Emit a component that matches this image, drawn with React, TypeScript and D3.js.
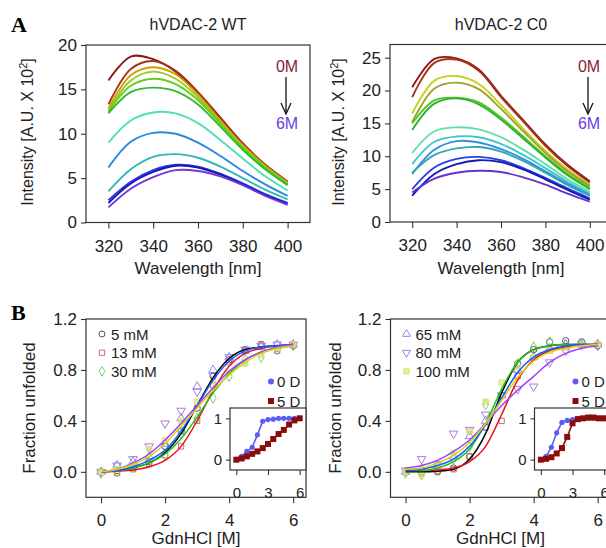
import { useRef, useEffect } from "react";
import * as d3 from "d3";

const FONT = "'Liberation Sans', Arial, sans-serif";

// ---- panel A: emission spectra ----
const wavelengths = [320, 330, 340, 350, 360, 370, 380, 390, 400];

const wtSpectra = [
  [16.0, 18.7, 18.4, 17.0, 14.6, 11.8, 8.9, 6.5, 4.6],
  [13.3, 17.3, 18.2, 17.1, 14.7, 11.8, 8.9, 6.5, 4.6],
  [12.8, 16.6, 17.5, 16.7, 14.4, 11.5, 8.7, 6.4, 4.5],
  [12.5, 16.0, 17.0, 16.2, 14.1, 11.3, 8.6, 6.3, 4.4],
  [12.5, 15.4, 16.2, 15.6, 13.8, 11.1, 8.4, 6.2, 4.3],
  [12.3, 14.7, 15.2, 14.8, 13.3, 10.8, 8.2, 6.0, 4.2],
  [9.0, 11.5, 12.4, 12.3, 11.2, 9.3, 7.2, 5.2, 3.6],
  [6.2, 9.1, 10.1, 10.0, 9.0, 7.5, 5.8, 4.3, 3.0],
  [3.5, 6.0, 7.4, 7.7, 7.3, 6.3, 5.0, 3.7, 2.6],
  [2.5, 4.6, 5.9, 6.5, 6.3, 5.5, 4.4, 3.2, 2.2],
  [2.2, 4.4, 5.7, 6.4, 6.2, 5.4, 4.3, 3.1, 2.1],
  [1.7, 3.8, 5.1, 5.9, 5.8, 5.2, 4.2, 3.0, 2.0],
];
const wtColors = ["#8b1a1a", "#a83218", "#c8a000", "#a0c820", "#60d010", "#30b830",
  "#50e0b0", "#2888e0", "#30b8b8", "#2838e8", "#1818b0", "#7038d8"];

const c0Spectra = [
  [20.5, 24.8, 24.9, 23.2, 19.2, 15.5, 11.8, 8.7, 6.2],
  [19.0, 24.2, 24.7, 23.0, 19.0, 15.3, 11.6, 8.5, 6.0],
  [16.5, 21.5, 22.2, 21.0, 17.8, 14.2, 10.8, 8.0, 5.7],
  [15.2, 20.3, 21.2, 20.2, 17.2, 13.8, 10.5, 7.7, 5.5],
  [15.0, 18.5, 18.9, 18.2, 15.9, 13.0, 10.0, 7.3, 5.2],
  [14.0, 18.0, 18.8, 17.9, 15.6, 12.7, 9.8, 7.1, 5.0],
  [10.5, 13.8, 14.4, 14.1, 12.9, 11.0, 8.8, 6.5, 4.6],
  [8.8, 12.2, 13.0, 12.9, 11.9, 10.2, 8.2, 6.1, 4.3],
  [7.3, 11.0, 12.3, 12.1, 11.1, 9.6, 7.7, 5.8, 4.1],
  [7.5, 10.2, 11.2, 11.4, 10.7, 9.3, 7.5, 5.6, 4.0],
  [5.0, 8.3, 9.6, 9.9, 9.4, 8.2, 6.7, 5.1, 3.6],
  [4.0, 7.3, 8.8, 9.4, 9.1, 8.0, 6.5, 4.9, 3.4],
  [4.5, 6.6, 7.5, 7.8, 7.6, 6.8, 5.7, 4.3, 3.1],
];
const c0Colors = ["#8b1a1a", "#a83218", "#c8d020", "#a0a028", "#50c820", "#30b030",
  "#60e0a8", "#40c8c8", "#3090e8", "#30a8b0", "#2840e8", "#1818b0", "#6830d0"];

// ---- panel B: titrations ----
const gdn = [0, 0.5, 1, 1.5, 2, 2.5, 3, 3.5, 4, 4.5, 5, 5.5, 6];
const seriesNames = ["5 mM", "13 mM", "30 mM", "65 mM", "80 mM", "100 mM"];
const markerColors = ["#555555", "#d06878", "#80d070", "#8a8ef0", "#a07ce0", "#dce070"];
const lineColors = ["#000000", "#e81020", "#20c020", "#1060ff", "#a040ff", "#e0d010"];

const leftPoints = [
  [0, 0.01, 0.03, 0.08, 0.2, 0.32, 0.5, 0.75, 0.88, 0.96, 1.0, 0.97, 0.99],
  [0, -0.01, 0.02, 0.06, 0.13, 0.2, 0.4, 0.68, 0.86, 0.95, 1.0, 0.95, 1.0],
  [-0.01, 0.0, 0.04, 0.08, 0.13, 0.3, 0.42, 0.58, 0.75, 0.88, 0.9, 0.96, 0.99],
  [0, 0.05, 0.08, 0.12, 0.22, 0.42, 0.67, 0.8, 0.9, 0.95, 0.98, 1.0, 1.0],
  [0, 0.05, 0.1, 0.2, 0.38, 0.48, 0.63, 0.76, 0.9, 0.96, 0.99, 1.0, 1.0],
  [0, 0.02, 0.06, 0.18, 0.25, 0.4, 0.55, 0.7, 0.78, 0.85, 0.92, 0.97, 1.0],
];
const leftFits = [
  [0, 0.01, 0.03, 0.07, 0.15, 0.3, 0.52, 0.74, 0.89, 0.96, 0.98, 0.99, 1.0],
  [0, 0.005, 0.015, 0.04, 0.09, 0.2, 0.4, 0.64, 0.83, 0.93, 0.97, 0.99, 1.0],
  [0, 0.01, 0.03, 0.07, 0.14, 0.26, 0.43, 0.62, 0.77, 0.88, 0.94, 0.97, 0.99],
  [0, 0.01, 0.04, 0.09, 0.17, 0.32, 0.52, 0.72, 0.87, 0.95, 0.98, 0.99, 1.0],
  [0, 0.02, 0.07, 0.14, 0.25, 0.38, 0.52, 0.66, 0.79, 0.88, 0.94, 0.98, 1.0],
  [0, 0.02, 0.06, 0.12, 0.22, 0.36, 0.5, 0.64, 0.76, 0.86, 0.93, 0.97, 0.99],
];

const rightPoints = [
  [0, -0.01, 0.0, 0.03, 0.12, 0.35, 0.6, 0.85, 0.96, 1.02, 1.03, 1.02, 0.99],
  [0, 0, 0.01, 0.02, 0.12, 0.35, 0.4, 0.75, 0.9, 0.95, 0.98, 1.0, 1.0],
  [-0.01, -0.02, 0.05, 0.1, 0.2, 0.53, 0.6, 0.85, 0.98, 1.02, 1.0, 1.0, 1.0],
  [0, 0.02, 0.05, 0.12, 0.28, 0.4, 0.6, 0.8, 0.9, 0.97, 1.0, 1.0, 1.0],
  [0.01, 0.1, 0.06, 0.3, 0.33, 0.45, 0.6, 0.65, 0.67, 0.86, 0.95, 1.0, 0.99],
  [0, -0.02, 0.04, 0.15, 0.32, 0.55, 0.7, 0.82, 0.9, 0.95, 0.98, 1.0, 1.0],
];
const rightFits = [
  [0, 0, 0.005, 0.02, 0.1, 0.3, 0.62, 0.86, 0.96, 0.99, 1.0, 1.0, 1.0],
  [0.01, 0.01, 0.015, 0.03, 0.08, 0.2, 0.45, 0.72, 0.88, 0.95, 0.98, 0.99, 1.0],
  [0.01, 0.01, 0.03, 0.08, 0.18, 0.38, 0.65, 0.86, 0.96, 0.99, 1.0, 1.0, 1.0],
  [0.01, 0.02, 0.05, 0.1, 0.2, 0.37, 0.58, 0.78, 0.9, 0.96, 0.99, 1.0, 1.0],
  [0.03, 0.05, 0.09, 0.16, 0.25, 0.38, 0.52, 0.64, 0.75, 0.86, 0.93, 0.97, 0.99],
  [0.02, 0.03, 0.07, 0.13, 0.23, 0.38, 0.56, 0.74, 0.87, 0.94, 0.97, 0.99, 1.0],
];

// insets: 0 D and 5 D
const leftInset0D = [0, 0.08, 0.2, 0.3, 0.6, 0.93, 0.97, 0.98, 1.0, 1.0, 1.0, 1.0, 1.0];
const leftInset5D = [0, 0.03, 0.08, 0.14, 0.2, 0.28, 0.38, 0.5, 0.62, 0.72, 0.85, 0.95, 1.0];
const rightInset0D = [0, 0.08, 0.3, 0.65, 0.9, 0.95, 0.97, 1.0, 1.0, 1.0, 1.0, 1.0, 1.0];
const rightInset5D = [0, 0.02, 0.06, 0.15, 0.28, 0.55, 0.88, 0.98, 1.0, 1.02, 1.02, 1.0, 1.0];

const symbols = [
  d3.symbolCircle, d3.symbolSquare, d3.symbolDiamond,
  d3.symbolTriangle, d3.symbolTriangle, d3.symbolSquare,
];

function styleAxis(g: any, size: number) {
  g.select(".domain").remove();
  g.selectAll("line").attr("stroke", "#333").attr("stroke-width", 1.1);
  g.selectAll("text").attr("font-family", FONT).attr("font-size", size).attr("fill", "#222");
}

function spectraPanel(svg: any, o: any) {
  const x = d3.scaleLinear().domain([310, 410]).range([o.left, o.right]);
  const y = d3.scaleLinear().domain([0, o.yMax]).range([o.bottom, o.top]);

  const line = d3.line<number>()
    .x((d, i) => x(wavelengths[i]))
    .y((d) => y(d))
    .curve(d3.curveCatmullRom);

  svg.append("g")
    .selectAll("path")
    .data(o.data)
    .enter()
    .append("path")
    .attr("d", (d: number[]) => line(d))
    .attr("fill", "none")
    .attr("stroke", (d: number[], i: number) => o.colors[i])
    .attr("stroke-width", 1.9);

  svg.append("rect")
    .attr("x", o.left).attr("y", o.top)
    .attr("width", o.right - o.left).attr("height", o.bottom - o.top)
    .attr("fill", "none").attr("stroke", "#333").attr("stroke-width", 1.2);

  const ya = svg.append("g").attr("transform", `translate(${o.left},0)`)
    .call(d3.axisLeft(y).tickValues(o.yTicks).tickSize(5).tickPadding(4));
  styleAxis(ya, 17);
  const xa = svg.append("g").attr("transform", `translate(0,${o.bottom})`)
    .call(d3.axisBottom(x).tickValues([320, 340, 360, 380, 400]).tickSize(6).tickPadding(11));
  styleAxis(xa, 17);

  const cx = (o.left + o.right) / 2;
  svg.append("text").attr("x", cx).attr("y", 30).attr("text-anchor", "middle")
    .attr("font-family", FONT).attr("font-size", 16).attr("fill", "#222").text(o.title);
  svg.append("text").attr("x", cx).attr("y", 274).attr("text-anchor", "middle")
    .attr("font-family", FONT).attr("font-size", 17).attr("fill", "#222").text("Wavelength [nm]");

  const yl = svg.append("text")
    .attr("transform", `translate(${o.labelX},132) rotate(-90)`)
    .attr("text-anchor", "middle")
    .attr("font-family", FONT).attr("font-size", 16).attr("fill", "#222");
  yl.append("tspan").text("Intensity [A.U. X 10");
  yl.append("tspan").attr("font-size", 11).attr("dy", -6).text("2");
  yl.append("tspan").attr("dy", 6).text("]");

  // 0M -> 6M arrow
  svg.append("text").attr("x", o.arrowX).attr("y", 72).attr("text-anchor", "middle")
    .attr("font-family", FONT).attr("font-size", 16).attr("fill", "#8b1a3a").text("0M");
  svg.append("text").attr("x", o.arrowX).attr("y", 129).attr("text-anchor", "middle")
    .attr("font-family", FONT).attr("font-size", 16).attr("fill", "#6a40e0").text("6M");
  svg.append("line").attr("x1", o.arrowX - 1).attr("x2", o.arrowX - 1).attr("y1", 77).attr("y2", 113)
    .attr("stroke", "#111").attr("stroke-width", 1.3);
  svg.append("path")
    .attr("d", `M${o.arrowX - 6},103 L${o.arrowX - 1},114 L${o.arrowX + 4},103`)
    .attr("fill", "none").attr("stroke", "#111").attr("stroke-width", 1.3);
}

function titrationPanel(svg: any, o: any) {
  const x = d3.scaleLinear().domain([-0.47, 6.4]).range([o.left, o.left + 220]);
  const y = d3.scaleLinear().domain([-0.2, 1.2]).range([497.3, 319]);

  const sym = d3.symbol();
  o.points.forEach((vals: number[], s: number) => {
    svg.append("g")
      .selectAll("path")
      .data(vals)
      .enter()
      .append("path")
      .attr("transform", (d: number, i: number) =>
        `translate(${x(gdn[i])},${y(d)})${s === 4 ? " rotate(180)" : ""}`)
      .attr("d", sym.type(symbols[s]).size(s === 1 || s === 5 ? 28 : 32)())
      .attr("fill", s === 5 ? markerColors[s] : "none")
      .attr("fill-opacity", 0.6)
      .attr("stroke", markerColors[s])
      .attr("stroke-width", 1);
  });

  const line = d3.line<number>()
    .x((d, i) => x(gdn[i]))
    .y((d) => y(d))
    .curve(d3.curveMonotoneX);
  o.fits.forEach((vals: number[], s: number) => {
    svg.append("path").attr("d", line(vals)).attr("fill", "none")
      .attr("stroke", lineColors[s]).attr("stroke-width", 1.5);
  });

  svg.append("rect")
    .attr("x", o.left).attr("y", 319)
    .attr("width", 220).attr("height", 497.3 - 319)
    .attr("fill", "none").attr("stroke", "#333").attr("stroke-width", 1.2);

  const ya = svg.append("g").attr("transform", `translate(${o.left},0)`)
    .call(d3.axisLeft(y).tickValues([0, 0.4, 0.8, 1.2]).tickFormat(d3.format(".1f")).tickSize(5).tickPadding(4));
  styleAxis(ya, 17);
  const xa = svg.append("g").attr("transform", `translate(0,497.3)`)
    .call(d3.axisBottom(x).tickValues([0, 2, 4, 6]).tickFormat(d3.format("d")).tickSize(6).tickPadding(11));
  styleAxis(xa, 17);

  svg.append("text").attr("x", o.left + 110).attr("y", 544).attr("text-anchor", "middle")
    .attr("font-family", FONT).attr("font-size", 17).attr("fill", "#222").text("GdnHCl [M]");
  svg.append("text")
    .attr("transform", `translate(${o.labelX},408) rotate(-90)`)
    .attr("text-anchor", "middle")
    .attr("font-family", FONT).attr("font-size", 17).attr("fill", "#222")
    .text("Fraction unfolded");

  // legend
  o.legend.forEach((s: number, k: number) => {
    const ly = 334 + k * 18.7;
    svg.append("path")
      .attr("transform", `translate(${o.left + 16},${ly})${s === 4 ? " rotate(180)" : ""}`)
      .attr("d", sym.type(symbols[s]).size(28)())
      .attr("fill", s === 5 ? markerColors[s] : "none")
      .attr("fill-opacity", 0.6)
      .attr("stroke", markerColors[s]).attr("stroke-width", 1);
    svg.append("text").attr("x", o.left + 25).attr("y", ly + 5.5)
      .attr("font-family", FONT).attr("font-size", 15).attr("fill", "#222")
      .text(seriesNames[s]);
  });

  // inset
  const il = o.left + 144;
  const ix = d3.scaleLinear().domain([-0.6, 6.6]).range([il, il + 76]);
  const iy = d3.scaleLinear().domain([-0.25, 1.25]).range([470, 408]);
  const iline = d3.line<number>()
    .x((d, i) => ix(gdn[i]))
    .y((d) => iy(d));

  svg.append("rect").attr("x", il).attr("y", 408).attr("width", 76).attr("height", 62)
    .attr("fill", "#fff").attr("stroke", "#333").attr("stroke-width", 1.2);

  svg.append("path").attr("d", iline(o.inset0D)).attr("fill", "none")
    .attr("stroke", "#5a5cf6").attr("stroke-width", 1.6);
  svg.append("g").selectAll("circle").data(o.inset0D).enter().append("circle")
    .attr("cx", (d: number, i: number) => ix(gdn[i])).attr("cy", (d: number) => iy(d))
    .attr("r", 2.6).attr("fill", "#5a5cf6");
  svg.append("path").attr("d", iline(o.inset5D)).attr("fill", "none")
    .attr("stroke", "#8b0c0c").attr("stroke-width", 1.6);
  svg.append("g").selectAll("rect").data(o.inset5D).enter().append("rect")
    .attr("x", (d: number, i: number) => ix(gdn[i]) - 3).attr("y", (d: number) => iy(d) - 3)
    .attr("width", 6).attr("height", 6).attr("fill", "#8b0c0c");

  const iya = svg.append("g").attr("transform", `translate(${il},0)`)
    .call(d3.axisLeft(iy).tickValues([0, 1]).tickFormat(d3.format("d")).tickSize(4).tickPadding(4));
  styleAxis(iya, 15);
  const ixa = svg.append("g").attr("transform", `translate(0,470)`)
    .call(d3.axisBottom(ix).tickValues([0, 3, 6]).tickFormat(d3.format("d")).tickSize(5).tickPadding(12));
  styleAxis(ixa, 15);

  // inset legend
  const lx = il + 41;
  svg.append("circle").attr("cx", lx).attr("cy", 381.5).attr("r", 3).attr("fill", "#5a5cf6");
  svg.append("text").attr("x", lx + 6).attr("y", 387).attr("font-family", FONT)
    .attr("font-size", 15).attr("fill", "#222").text("0 D");
  svg.append("rect").attr("x", lx - 3).attr("y", 398).attr("width", 6).attr("height", 6).attr("fill", "#8b0c0c");
  svg.append("text").attr("x", lx + 6).attr("y", 406.5).attr("font-family", FONT)
    .attr("font-size", 15).attr("fill", "#222").text("5 D");
}

function App() {
  const svgRef = useRef<SVGSVGElement>(null);

  useEffect(() => {
    const svg = d3.select(svgRef.current);
    svg.selectAll("*").remove();
    svg.append("rect").attr("width", 606).attr("height", 548).attr("fill", "#fff");

    // panel letters
    svg.append("text").attr("x", 11).attr("y", 32).attr("font-family", "'Liberation Serif', 'Times New Roman', serif")
      .attr("font-weight", "bold").attr("font-size", 22).text("A");
    svg.append("text").attr("x", 11).attr("y", 320).attr("font-family", "'Liberation Serif', 'Times New Roman', serif")
      .attr("font-weight", "bold").attr("font-size", 22).text("B");

    spectraPanel(svg, {
      left: 86, right: 310, top: 45, bottom: 222.5, yMax: 20,
      yTicks: [0, 5, 10, 15, 20], data: wtSpectra, colors: wtColors,
      title: "hVDAC-2 WT", labelX: 33, arrowX: 287,
    });
    spectraPanel(svg, {
      left: 390, right: 612, top: 44.5, bottom: 222, yMax: 27,
      yTicks: [0, 5, 10, 15, 20, 25], data: c0Spectra, colors: c0Colors,
      title: "hVDAC-2 C0", labelX: 344, arrowX: 589,
    });

    titrationPanel(svg, {
      left: 86, labelX: 35, points: leftPoints, fits: leftFits, legend: [0, 1, 2],
      inset0D: leftInset0D, inset5D: leftInset5D,
    });
    titrationPanel(svg, {
      left: 390.5, labelX: 341, points: rightPoints, fits: rightFits, legend: [3, 4, 5],
      inset0D: rightInset0D, inset5D: rightInset5D,
    });
  }, []);

  return (
    <svg ref={svgRef} width={606} height={548}
      style={{ position: "absolute", left: 0, top: 0 }} />
  );
}

export default App;
